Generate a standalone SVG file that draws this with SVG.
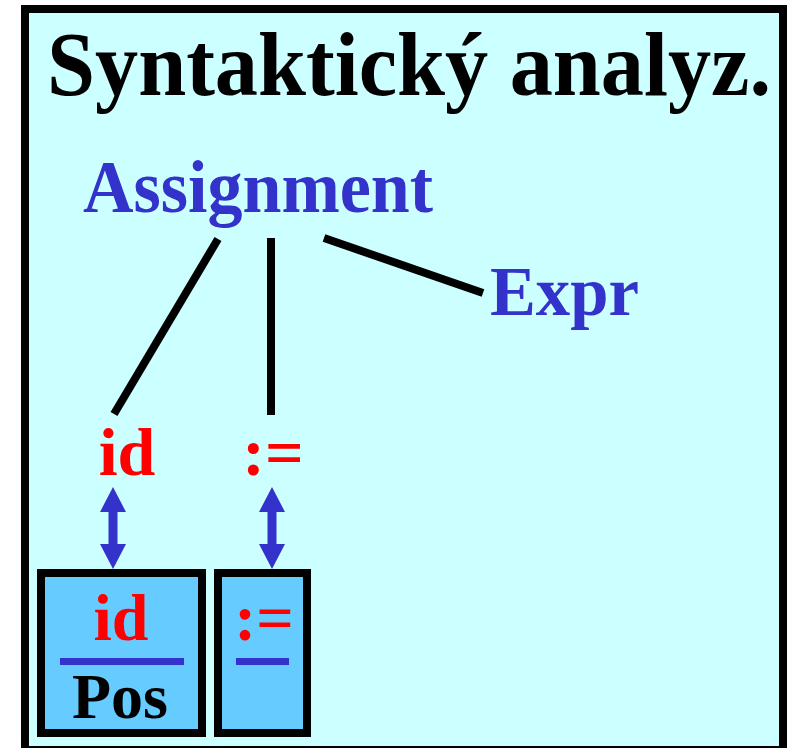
<svg xmlns="http://www.w3.org/2000/svg" width="794" height="748" viewBox="0 0 794 748">
<style>
.t{font-family:"Liberation Serif","Times New Roman",serif;font-weight:bold}
.blue{fill:#3333CC}
.red{fill:#FF0000}
.blk{fill:#000}
.edge{stroke:#000;stroke-width:8;fill:none}
.box{fill:#66CCFF;stroke:#000;stroke-width:8}
.bar{stroke:#3333CC;stroke-width:7}
</style>
<defs>
<path id="darr" d="M0,0 L13,25 L4.5,25 L4.5,57 L13,57 L0,82 L-13,57 L-4.5,57 L-4.5,25 L-13,25 Z" fill="#3333CC"/>
</defs>
<rect x="0" y="0" width="794" height="748" fill="#fff"/>
<g id="frame">
<rect x="25" y="9" width="758" height="741" fill="#CCFFFF" stroke="#000" stroke-width="8"/>
<text class="t blk" x="47" y="95" font-size="90" textLength="724" lengthAdjust="spacingAndGlyphs">Syntaktický analyz.</text>
</g>
<g id="connectors">
<line class="edge" x1="218" y1="239" x2="114" y2="414"/>
<line class="edge" x1="271" y1="238" x2="271" y2="415"/>
<line class="edge" x1="324" y1="238" x2="483" y2="293"/>
<use href="#darr" x="113" y="487"/>
<use href="#darr" x="272" y="487"/>
</g>
<g id="assignment"><text class="t blue" x="83" y="212" font-size="73" textLength="350" lengthAdjust="spacingAndGlyphs">Assignment</text></g>
<g id="expr"><text class="t blue" x="490" y="315" font-size="70" textLength="149" lengthAdjust="spacingAndGlyphs">Expr</text></g>
<g id="id"><text class="t red" x="127" y="475" font-size="68" text-anchor="middle">id</text></g>
<g id="assign-op"><text class="t red" x="273" y="475" font-size="68" text-anchor="middle">:=</text></g>
<g id="box-id">
<rect class="box" x="41" y="573" width="161" height="160"/>
<text class="t red" x="121" y="640" font-size="66" text-anchor="middle">id</text>
<line class="bar" x1="60" y1="661.5" x2="184" y2="661.5"/>
<text class="t blk" x="120" y="718" font-size="64" text-anchor="middle">Pos</text>
</g>
<g id="box-op">
<rect class="box" x="218" y="573" width="89" height="160"/>
<text class="t red" x="264" y="640" font-size="66" text-anchor="middle">:=</text>
<line class="bar" x1="236" y1="661.5" x2="289" y2="661.5"/>
</g>
</svg>
